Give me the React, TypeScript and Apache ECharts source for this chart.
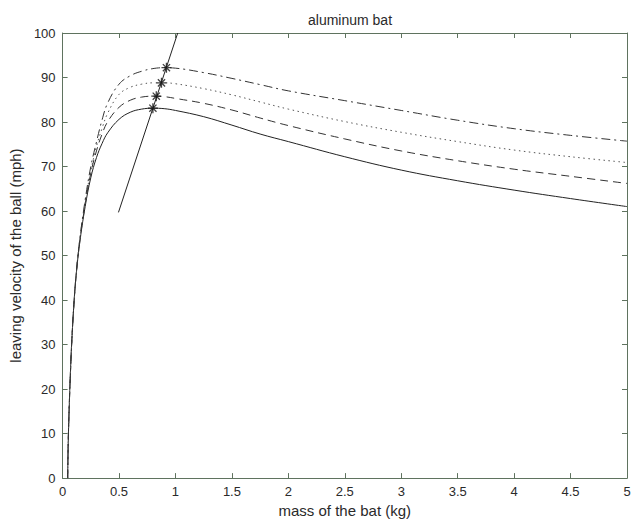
import React, { useEffect, useRef } from "react";
import * as echarts from "echarts";

const massKg = [0.045, 0.05, 0.06, 0.07, 0.08, 0.1, 0.12, 0.15, 0.2, 0.25, 0.3, 0.35, 0.4, 0.5, 0.6, 0.7, 0.8, 0.9, 1.0, 1.25, 1.5, 1.75, 2.0, 2.5, 3.0, 3.5, 4.0, 4.5, 5.0];
const solidV = [0, 8, 17, 24, 30, 39, 45.5, 52.5, 61, 67.5, 72, 75.2, 77.6, 80.6, 82.2, 82.9, 83.1, 83.0, 82.6, 81.2, 79.3, 77.3, 75.6, 72.2, 69.2, 66.8, 64.7, 62.8, 61.0];
const dashedV = [0, 8, 17, 24, 30, 39, 45.6, 52.8, 61.5, 68.5, 73.5, 77.3, 80.1, 83.3, 84.9, 85.6, 85.8, 85.7, 85.3, 84.2, 82.7, 80.9, 79.2, 76.2, 73.5, 71.3, 69.4, 67.8, 66.2];
const dottedV = [0, 8, 17, 24, 30, 39, 45.7, 53.0, 62, 69, 74.5, 78.6, 82, 86.2, 87.8, 88.5, 88.8, 88.8, 88.6, 87.5, 86.1, 84.5, 82.9, 80.1, 77.7, 75.6, 73.7, 72.2, 70.9];
const dashDotV = [0, 8, 17, 24, 30, 39, 45.8, 53.2, 62.5, 70, 75.5, 80.5, 84.3, 88.5, 90.4, 91.4, 92.0, 92.2, 92.1, 91.1, 89.8, 88.4, 87.0, 84.8, 82.6, 80.4, 78.5, 77.0, 75.7];

const peakMass = [0.8, 0.83, 0.876, 0.92];
const peakV = [83.1, 85.8, 88.8, 92.2];

const optimalLineMass = [0.495, 1.02];
const optimalLineV = [59.7, 100];

const xTicks = [0, 0.5, 1, 1.5, 2, 2.5, 3, 3.5, 4, 4.5, 5];
const yTicks = [0, 10, 20, 30, 40, 50, 60, 70, 80, 90, 100];

const FONT = "Liberation Sans, Arial, Helvetica, sans-serif";
const FRAME = "#5f735f";
const INK = "#2a2a2a";

const zip = (xs: number[], ys: number[]) => xs.map((x, i) => [x, ys[i]]);

const STAR = "path://M0,-5L0,5M-5,0L5,0M-3.6,-3.6L3.6,3.6M-3.6,3.6L3.6,-3.6";

export default function App() {
  const ref = useRef<HTMLDivElement>(null);
  useEffect(() => {
    if (!ref.current) return;
    const chart = echarts.init(ref.current, undefined, { renderer: "svg" });
    const axisCommon = {
      type: "value" as const,
      axisLine: { show: true, onZero: false, lineStyle: { color: FRAME, width: 1 } },
      axisTick: { show: true, inside: true, length: 5, lineStyle: { color: FRAME } },
      splitLine: { show: false },
    };
    const lineSeries = (name: string, ys: number[], type: any, color: string) => ({
      name,
      type: "line",
      data: zip(massKg, ys),
      showSymbol: false,
      smooth: 0.4,
      lineStyle: { color, width: 1, type },
      z: 3,
    });
    chart.setOption({
      animation: false,
      backgroundColor: "#ffffff",
      title: {
        text: "aluminum bat",
        left: 345,
        top: 8,
        textAlign: "center",
        textStyle: { fontFamily: FONT, fontSize: 14, fontWeight: "normal", color: INK },
      },
      grid: { left: 60, right: 9, top: 33, bottom: 43 },
      xAxis: [
        {
          ...axisCommon,
          min: 0,
          max: 5,
          interval: 0.5,
          position: "bottom",
          name: "mass of the bat (kg)",
          nameLocation: "middle",
          nameGap: 24,
          nameTextStyle: { fontFamily: FONT, fontSize: 15, color: INK },
          axisLabel: {
            fontFamily: FONT,
            fontSize: 13,
            color: INK,
            margin: 7,
            formatter: (v: number) => (xTicks.includes(v) ? String(v) : ""),
          },
        },
        {
          ...axisCommon,
          min: 0,
          max: 5,
          interval: 0.5,
          position: "top",
          axisLabel: { show: false },
        },
      ],
      yAxis: [
        {
          ...axisCommon,
          min: 0,
          max: 100,
          interval: 10,
          position: "left",
          name: "leaving velocity of the ball (mph)",
          nameLocation: "middle",
          nameGap: 31,
          nameTextStyle: { fontFamily: FONT, fontSize: 15, color: INK },
          axisLabel: {
            fontFamily: FONT,
            fontSize: 13,
            color: INK,
            margin: 7,
            formatter: (v: number) => (yTicks.includes(v) ? String(v) : ""),
          },
        },
        {
          ...axisCommon,
          min: 0,
          max: 100,
          interval: 10,
          position: "right",
          axisLabel: { show: false },
        },
      ],
      series: [
        lineSeries("solid", solidV, "solid", "#222"),
        lineSeries("dashed", dashedV, [8, 5], "#333"),
        lineSeries("dotted", dottedV, [1.5, 3.5], "#555"),
        lineSeries("dashdot", dashDotV, [9, 4, 2, 4], "#333"),
        {
          name: "optimum",
          type: "line",
          data: zip(optimalLineMass, optimalLineV),
          showSymbol: false,
          lineStyle: { color: "#222", width: 1 },
          z: 4,
        },
        {
          name: "peaks",
          type: "scatter",
          data: zip(peakMass, peakV),
          symbol: STAR,
          symbolSize: 10,
          itemStyle: { color: "none", borderColor: "#111", borderWidth: 1.3 },
          z: 5,
        },
      ],
    });
    return () => chart.dispose();
  }, []);
  return (
    <div
      ref={ref}
      style={{ position: "fixed", left: 0, top: 0, width: 636, height: 523, background: "#fff" }}
    />
  );
}
